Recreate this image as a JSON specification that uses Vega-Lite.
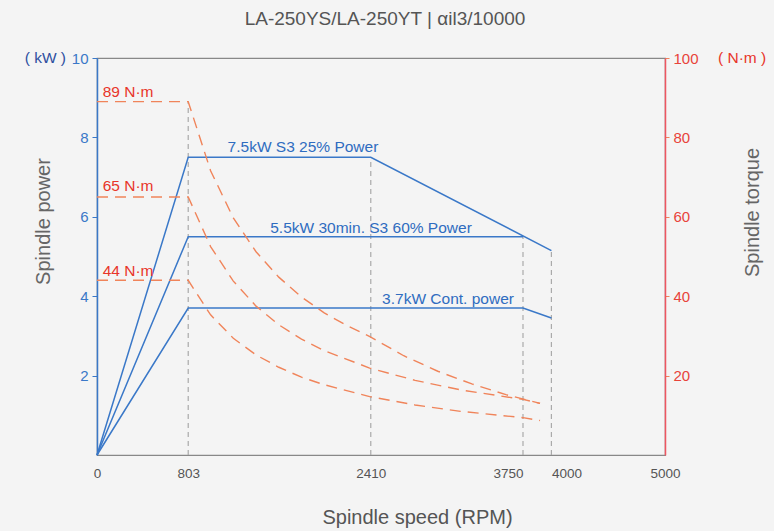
{
  "$schema": "https://vega.github.io/schema/vega-lite/v6.json",
  "width": 568,
  "height": 397,
  "autosize": {"type": "none"},
  "padding": {"left": 97, "top": 58, "right": 109, "bottom": 76},
  "background": "#f4f4f4",
  "title": {
    "text": "LA-250YS/LA-250YT | αil3/10000",
    "font": "Liberation Sans",
    "fontSize": 19,
    "fontWeight": "normal",
    "color": "#555555",
    "anchor": "middle",
    "offset": 22,
    "dx": 4
  },
  "config": {
    "font": "Liberation Sans",
    "view": {"stroke": "#888888", "strokeWidth": 1.2},
    "axis": {"grid": false}
  },
  "datasets": {
    "power": [
      {"series": "7.5", "rpm": 0, "kW": 0},
      {"series": "7.5", "rpm": 803, "kW": 7.5},
      {"series": "7.5", "rpm": 2410, "kW": 7.5},
      {"series": "7.5", "rpm": 4000, "kW": 5.15},
      {"series": "5.5", "rpm": 0, "kW": 0},
      {"series": "5.5", "rpm": 803, "kW": 5.5},
      {"series": "5.5", "rpm": 3750, "kW": 5.5},
      {"series": "3.7", "rpm": 0, "kW": 0},
      {"series": "3.7", "rpm": 803, "kW": 3.7},
      {"series": "3.7", "rpm": 3750, "kW": 3.7},
      {"series": "3.7", "rpm": 4000, "kW": 3.45}
    ],
    "guides": [
      {"rpm": 803, "lo": 0, "hi": 8.9},
      {"rpm": 2410, "lo": 0, "hi": 7.5},
      {"rpm": 3750, "lo": 0, "hi": 5.5},
      {"rpm": 4000, "lo": 0, "hi": 5.15}
    ],
    "powerLabels": [
      {"rpm": 1813, "kW": 7.75, "label": "7.5kW S3 25% Power"},
      {"rpm": 2412, "kW": 5.72, "label": "5.5kW 30min. S3 60% Power"},
      {"rpm": 3090, "kW": 3.92, "label": "3.7kW Cont. power"}
    ],
    "torque": [
      {"series": "89", "rpm": 0, "Nm": 89},
      {"series": "89", "rpm": 803, "Nm": 89},
      {"series": "89", "rpm": 1000, "Nm": 71.6},
      {"series": "89", "rpm": 1200, "Nm": 59.7},
      {"series": "89", "rpm": 1400, "Nm": 51.2},
      {"series": "89", "rpm": 1600, "Nm": 44.8},
      {"series": "89", "rpm": 1800, "Nm": 39.8},
      {"series": "89", "rpm": 2000, "Nm": 35.8},
      {"series": "89", "rpm": 2200, "Nm": 32.6},
      {"series": "89", "rpm": 2410, "Nm": 29.7},
      {"series": "89", "rpm": 2700, "Nm": 25.0},
      {"series": "89", "rpm": 3000, "Nm": 21.1},
      {"series": "89", "rpm": 3300, "Nm": 17.9},
      {"series": "89", "rpm": 3600, "Nm": 15.2},
      {"series": "89", "rpm": 3900, "Nm": 13.0},
      {"series": "65", "rpm": 0, "Nm": 65},
      {"series": "65", "rpm": 803, "Nm": 65},
      {"series": "65", "rpm": 1000, "Nm": 52.5},
      {"series": "65", "rpm": 1200, "Nm": 43.8},
      {"series": "65", "rpm": 1400, "Nm": 37.5},
      {"series": "65", "rpm": 1600, "Nm": 32.8},
      {"series": "65", "rpm": 1800, "Nm": 29.2},
      {"series": "65", "rpm": 2000, "Nm": 26.3},
      {"series": "65", "rpm": 2400, "Nm": 21.9},
      {"series": "65", "rpm": 2800, "Nm": 18.8},
      {"series": "65", "rpm": 3200, "Nm": 16.4},
      {"series": "65", "rpm": 3750, "Nm": 14.0},
      {"series": "65", "rpm": 3900, "Nm": 13.0},
      {"series": "44", "rpm": 0, "Nm": 44},
      {"series": "44", "rpm": 803, "Nm": 44},
      {"series": "44", "rpm": 1000, "Nm": 35.3},
      {"series": "44", "rpm": 1200, "Nm": 29.4},
      {"series": "44", "rpm": 1400, "Nm": 25.2},
      {"series": "44", "rpm": 1600, "Nm": 22.1},
      {"series": "44", "rpm": 1800, "Nm": 19.6},
      {"series": "44", "rpm": 2000, "Nm": 17.7},
      {"series": "44", "rpm": 2400, "Nm": 14.7},
      {"series": "44", "rpm": 2800, "Nm": 12.6},
      {"series": "44", "rpm": 3200, "Nm": 11.0},
      {"series": "44", "rpm": 3750, "Nm": 9.4},
      {"series": "44", "rpm": 3900, "Nm": 8.7}
    ],
    "torqueLabels": [
      {"rpm": 50, "Nm": 91.5, "label": "89 N·m"},
      {"rpm": 50, "Nm": 67.8, "label": "65 N·m"},
      {"rpm": 50, "Nm": 46.4, "label": "44 N·m"}
    ]
  },
  "encoding": {
    "x": {
      "field": "rpm",
      "type": "quantitative",
      "scale": {"domain": [0, 5000], "nice": false, "zero": true},
      "axis": {
        "values": [0, 803, 2410, 3750, 4000, 5000],
        "format": "d",
        "title": "Spindle speed (RPM)",
        "titleFont": "Liberation Sans",
        "titleFontSize": 20,
        "titleFontWeight": "normal",
        "titleColor": "#555555",
        "titleX": 320,
        "titleY": 62,
        "titleBaseline": "middle",
        "labelColor": "#555555",
        "labelFontSize": 13.5,
        "labelPadding": 11,
        "labelOverlap": false,
        "labelFlush": false,
        "labelAlign": {
          "condition": [
            {"test": "datum.value == 3750", "value": "right"},
            {"test": "datum.value == 4000", "value": "left"}
          ],
          "value": "center"
        },
        "ticks": false,
        "domainColor": "#888888",
        "domainWidth": 1.2
      }
    }
  },
  "layer": [
    {
      "encoding": {
        "y": {
          "type": "quantitative",
          "scale": {"domain": [0, 10], "nice": false},
          "axis": {
            "orient": "left",
            "values": [2, 4, 6, 8, 10],
            "title": "Spindle power",
            "titleFont": "Liberation Sans",
            "titleFontSize": 20,
            "titleFontWeight": "normal",
            "titleColor": "#666666",
            "titleAngle": 270,
            "titleBaseline": "middle",
            "titleX": -54,
            "titleY": 163,
            "labelColor": "#3a78c8",
            "labelFontSize": 15,
            "labelPadding": 4,
            "tickColor": "#3a78c8",
            "tickSize": 5,
            "domainColor": "#3a78c8",
            "domainWidth": 1.5
          }
        }
      },
      "layer": [
        {
          "data": {"name": "guides"},
          "mark": {"type": "rule", "color": "#aaaaaa", "strokeDash": [5, 4], "strokeWidth": 1.2},
          "encoding": {"y": {"field": "lo"}, "y2": {"field": "hi"}}
        },
        {
          "data": {"name": "power"},
          "mark": {"type": "line", "color": "#3a78c8", "strokeWidth": 1.5},
          "encoding": {"y": {"field": "kW"}, "detail": {"field": "series"}}
        },
        {
          "data": {"name": "powerLabels"},
          "mark": {"type": "text", "color": "#2f6cc0", "fontSize": 15.5, "align": "center", "baseline": "middle"},
          "encoding": {"y": {"field": "kW"}, "text": {"field": "label"}}
        },
        {
          "data": {"values": [{"rpm": 0, "kW": 10, "label": "( kW )"}]},
          "mark": {"type": "text", "color": "#2e4fa0", "fontSize": 15.5, "align": "right", "baseline": "middle", "dx": -31, "clip": false},
          "encoding": {"y": {"field": "kW"}, "text": {"field": "label"}}
        }
      ]
    },
    {
      "encoding": {
        "y": {
          "type": "quantitative",
          "scale": {"domain": [0, 100], "nice": false},
          "axis": {
            "orient": "right",
            "values": [20, 40, 60, 80, 100],
            "title": "Spindle torque",
            "titleFont": "Liberation Sans",
            "titleFontSize": 20,
            "titleFontWeight": "normal",
            "titleColor": "#666666",
            "titleAngle": 270,
            "titleBaseline": "middle",
            "titleX": 87,
            "titleY": 154,
            "labelColor": "#e8433a",
            "labelFontSize": 15,
            "labelPadding": 4,
            "tickColor": "#f0845a",
            "tickSize": 4,
            "domainColor": "#ee5560",
            "domainWidth": 1.5
          }
        }
      },
      "layer": [
        {
          "data": {"name": "torque"},
          "mark": {"type": "line", "color": "#f0845a", "strokeWidth": 1.4, "strokeDash": [11, 7]},
          "encoding": {"y": {"field": "Nm"}, "detail": {"field": "series"}}
        },
        {
          "data": {"name": "torqueLabels"},
          "mark": {"type": "text", "color": "#e8352a", "fontSize": 15.5, "align": "left", "baseline": "middle"},
          "encoding": {"y": {"field": "Nm"}, "text": {"field": "label"}}
        },
        {
          "data": {"values": [{"rpm": 5000, "Nm": 100, "label": "( N·m )"}]},
          "mark": {"type": "text", "color": "#e8352a", "fontSize": 15.5, "align": "left", "baseline": "middle", "dx": 53, "clip": false},
          "encoding": {"y": {"field": "Nm"}, "text": {"field": "label"}}
        }
      ]
    }
  ],
  "resolve": {"scale": {"y": "independent"}}
}
